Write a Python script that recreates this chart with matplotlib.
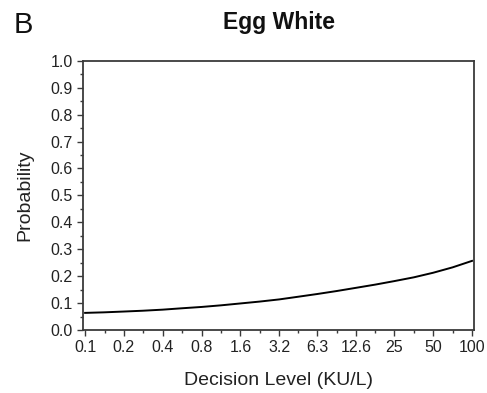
import numpy as np
import matplotlib
matplotlib.use("Agg")
import matplotlib.pyplot as plt
from matplotlib.ticker import FixedLocator, NullFormatter

plt.rcParams['font.family'] = ['Liberation Sans', 'DejaVu Sans']

# Decision levels (KU/L) and predicted probability along the curve
decision_level = [0.1, 0.14, 0.2, 0.28, 0.4, 0.56, 0.8, 1.13, 1.6, 2.26, 3.2,
                  4.5, 6.3, 8.9, 12.6, 17.8, 25, 35.4, 50, 70.7, 100]
probability = [0.064, 0.066, 0.069, 0.072, 0.076, 0.081, 0.086, 0.092, 0.099, 0.106, 0.114,
               0.124, 0.134, 0.145, 0.157, 0.169, 0.182, 0.196, 0.213, 0.233, 0.257]

tick_values = [0.1, 0.2, 0.4, 0.8, 1.6, 3.2, 6.3, 12.6, 25, 50, 100]
tick_labels = ['0.1', '0.2', '0.4', '0.8', '1.6', '3.2', '6.3', '12.6', '25', '50', '100']

# minor ticks sit halfway (in log space) between the labelled ones
tv = np.array(tick_values)
minor_pos = np.sqrt(tv[:-1] * tv[1:])

fig = plt.figure(figsize=(4.87, 3.93), dpi=100)
ax = fig.add_axes([0.170, 0.160, 0.804, 0.6855])

ax.plot(decision_level, probability, color='black', lw=1.4)

ax.set_xscale('log')
pad = 10 ** 0.018
ax.set_xlim(0.1 / pad, 100 * pad)
ax.set_ylim(0, 1.0)

ax.xaxis.set_major_locator(FixedLocator(tick_values))
ax.xaxis.set_minor_locator(FixedLocator(minor_pos))
ax.set_xticklabels(tick_labels)
ax.xaxis.set_minor_formatter(NullFormatter())

yt = np.arange(0, 1.01, 0.1)
ax.set_yticks(yt)
ax.set_yticks(np.arange(0.05, 1.0, 0.1), minor=True)
ax.set_yticklabels([f'{v:.1f}' for v in yt])

for s in ax.spines.values():
    s.set_color('#3a3a3a')
    s.set_linewidth(1.3)

ax.tick_params(which='major', direction='out', length=4.3, width=1.0,
               color='#3a3a3a', labelsize=11.5, labelcolor='#222222', pad=3.0)
ax.tick_params(which='minor', direction='out', length=2.2, width=1.0,
               color='#3a3a3a')

ax.set_xlabel('Decision Level (KU/L)', fontsize=14, color='#222222', va='center')
ax.xaxis.set_label_coords(0.5, -0.186)
ax.set_ylabel('Probability', fontsize=14, color='#222222', va='center')
ax.yaxis.set_label_coords(-0.147, 0.5)

fig.text(0.5727, 0.925, 'Egg White', ha='center', va='baseline',
         fontsize=16.5, fontweight='bold', color='#111111')
fig.text(0.027, 0.915, 'B', ha='left', va='baseline', fontsize=21, color='#111111')

fig.savefig('out.png', dpi=100, facecolor='white')
